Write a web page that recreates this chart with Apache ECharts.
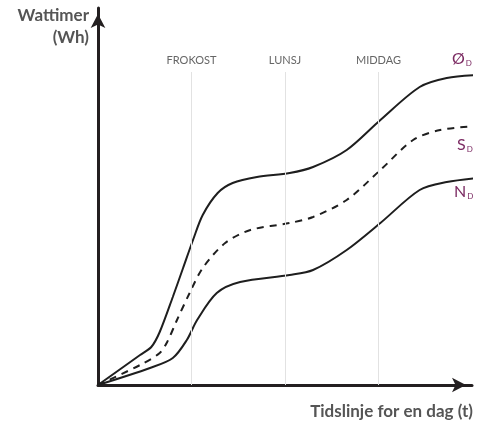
<!DOCTYPE html>
<html>
<head>
<meta charset="utf-8">
<script src="https://cdn.jsdelivr.net/npm/echarts@6/dist/echarts.min.js"></script>
<style>
  html, body { margin: 0; padding: 0; background: #fff; }
  #chart { width: 478px; height: 425px; }
</style>
</head>
<body>
<div id="chart"></div>
<script>
// Meal times along the day axis (x position in time units)
const mealNames = ['FROKOST', 'LUNSJ', 'MIDDAG'];
const mealTimes = [1, 2, 3];

// Energy curves: [time, watt-hours]
const seriesOslash = [[0,0],[0.45,30],[0.57,38],[0.66,53],[0.80,88],[0.91,117],[1.02,146],[1.12,170],[1.28,192],[1.44,202],[1.70,208],[2.05,212],[2.30,218],[2.66,235],[3.02,265],[3.44,298],[3.73,307],[4.05,310]];
const seriesS = [[0,0],[0.45,20],[0.66,32],[0.74,43],[0.84,64],[0.98,92],[1.12,117],[1.36,142],[1.63,155],[2.05,162],[2.30,168],[2.66,185],[3.02,215],[3.37,245],[3.66,255],[4.05,259]];
const seriesN = [[0,0],[0.556,17],[0.80,27],[0.95,45],[1.06,65],[1.27,92],[1.52,103],[2.05,110],[2.30,115],[2.66,135],[3.02,162],[3.44,195],[3.73,203],[4.05,207]];

const guideTop = 313;
const font = 'Lato, "Open Sans", sans-serif';
const lineColor = '#1e1e1e';
const labelColor = '#7b2a62';

const chart = echarts.init(document.getElementById('chart'));

function curve(name, data, dashed) {
  return {
    name: name,
    type: 'line',
    data: data,
    smooth: 0.3,
    showSymbol: false,
    clip: false,
    lineStyle: { color: lineColor, width: 2, type: dashed ? [7, 6] : 'solid' },
    z: 3
  };
}

const subRich = {
  a: { fontSize: 16, fontFamily: font, fill: labelColor },
  b: { fontSize: 8, fontFamily: font, fill: labelColor, padding: [9, 0, 0, 1] }
};

chart.setOption({
  animation: false,
  grid: { left: 98, right: 6, top: 8, bottom: 40 },
  xAxis: {
    type: 'value', min: 0, max: 4,
    axisLine: { show: true, lineStyle: { color: '#231f20', width: 3 }, symbol: ['none', 'arrow'], symbolSize: [11, 14], symbolOffset: [0, -6] },
    axisTick: { show: false }, axisLabel: { show: false }, splitLine: { show: false }
  },
  yAxis: {
    type: 'value', min: 0, max: 377,
    axisLine: { show: true, lineStyle: { color: '#231f20', width: 3 }, symbol: ['none', 'arrow'], symbolSize: [11, 14], symbolOffset: [0, -6] },
    axisTick: { show: false }, axisLabel: { show: false }, splitLine: { show: false }
  },
  series: [
    Object.assign(curve('Ø', seriesOslash, false), {
      markLine: {
        silent: true, symbol: 'none',
        lineStyle: { color: '#e2e2e2', width: 1, type: 'solid' },
        label: {
          show: true, position: 'end', distance: 6,
          formatter: p => p.name,
          color: '#666', fontSize: 11, fontFamily: font
        },
        data: mealTimes.map((t, i) => [
          { coord: [t, 0], name: mealNames[i] },
          { coord: [t, guideTop] }
        ])
      }
    }),
    curve('S', seriesS, true),
    curve('N', seriesN, false)
  ],
  graphic: [
    { type: 'text', right: 389, top: 7, style: { text: 'Wattimer', font: 'bold 17px ' + font, fill: '#555' } },
    { type: 'text', right: 389, top: 29, style: { text: '(Wh)', font: 'bold 17px ' + font, fill: '#555' } },
    { type: 'text', right: 5, top: 403, style: { text: 'Tidslinje for en dag (t)', font: 'bold 17px ' + font, fill: '#555' } },
    { type: 'text', left: 452, top: 51, style: { rich: subRich, text: '{a|Ø}{b|D}' } },
    { type: 'text', left: 457, top: 137, style: { rich: subRich, text: '{a|S}{b|D}' } },
    { type: 'text', left: 454, top: 184, style: { rich: subRich, text: '{a|N}{b|D}' } }
  ]
});
</script>
</body>
</html>
